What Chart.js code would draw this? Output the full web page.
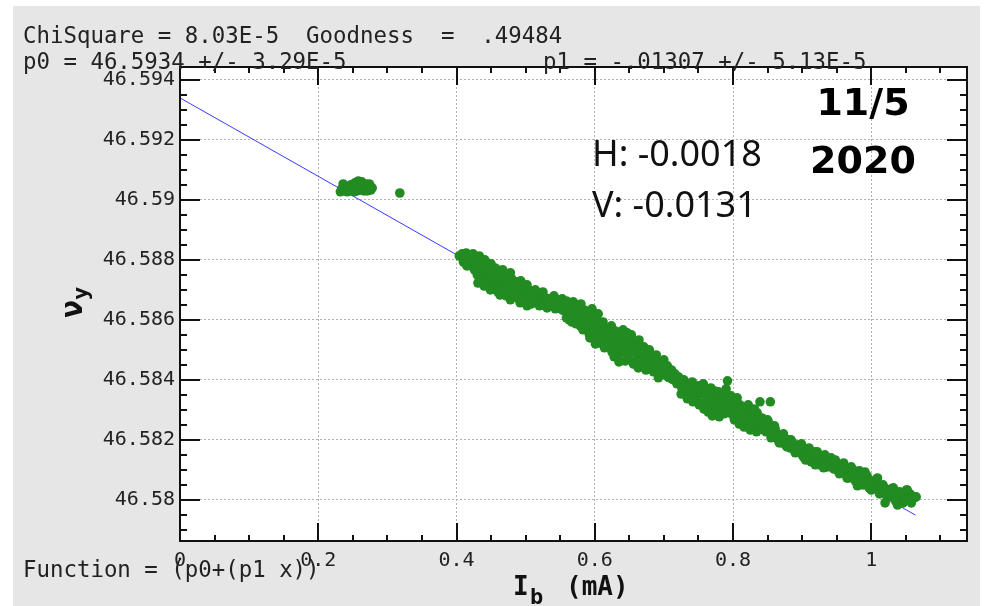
<!DOCTYPE html>
<html>
<head>
<meta charset="utf-8">
<script src="https://cdn.jsdelivr.net/npm/chart.js@4.4.0/dist/chart.umd.min.js"></script>
<style>
  html, body { margin: 0; padding: 0; background: #fff; }
  #wrap { width: 987px; height: 606px; }
</style>
</head>
<body>
<div id="wrap"><canvas id="tune-chart" width="987" height="606"></canvas></div>
<script>
// linear fit nu_y = p0 + p1 * Ib
const fitP0 = 46.5934;
const fitP1 = -0.01307;
const fitRange = [0, 1.064];

const xTickValues = [0, 0.2, 0.4, 0.6, 0.8, 1];
const yTickValues = [46.58, 46.582, 46.584, 46.586, 46.588, 46.59, 46.592, 46.594];

// [Ib (mA), nu_y]
const lowCurrentRun = [
  [0.234, 46.59037], [0.237, 46.59047], [0.240, 46.59033], [0.243, 46.59043],
  [0.245, 46.59030], [0.246, 46.59037], [0.247, 46.59050], [0.250, 46.59033],
  [0.253, 46.59057], [0.255, 46.59043], [0.256, 46.59030], [0.258, 46.59063],
  [0.259, 46.59050], [0.260, 46.59033], [0.262, 46.59057], [0.263, 46.59060],
  [0.265, 46.59047], [0.266, 46.59030], [0.268, 46.59040], [0.269, 46.59053],
  [0.272, 46.59037], [0.275, 46.59047], [0.276, 46.59033], [0.232, 46.59027],
  [0.236, 46.59053], [0.242, 46.59027], [0.249, 46.59040], [0.252, 46.59027],
  [0.259, 46.59040], [0.271, 46.59030], [0.274, 46.59053], [0.278, 46.59040],
  [0.256, 46.59053]
];

const strayPoint = [[0.318, 46.59023]];

const rampStart = [
  [0.404, 46.58813], [0.408, 46.58820], [0.412, 46.58807], [0.414, 46.58823],
  [0.417, 46.58793], [0.420, 46.58810], [0.421, 46.58780], [0.424, 46.58820],
  [0.426, 46.58767], [0.428, 46.58800], [0.430, 46.58750], [0.433, 46.58813],
  [0.434, 46.58780], [0.437, 46.58760], [0.439, 46.58737], [0.441, 46.58800],
  [0.443, 46.58773], [0.446, 46.58747], [0.447, 46.58723], [0.449, 46.58700],
  [0.450, 46.58787], [0.452, 46.58760], [0.454, 46.58733], [0.457, 46.58713],
  [0.459, 46.58767], [0.462, 46.58743], [0.463, 46.58683], [0.465, 46.58720],
  [0.466, 46.58700], [0.469, 46.58750], [0.470, 46.58727], [0.473, 46.58703],
  [0.476, 46.58737], [0.478, 46.58757], [0.478, 46.58667], [0.479, 46.58713],
  [0.482, 46.58693], [0.485, 46.58723], [0.486, 46.58703], [0.489, 46.58683],
  [0.492, 46.58713], [0.492, 46.58657], [0.495, 46.58693], [0.498, 46.58677],
  [0.501, 46.58707], [0.502, 46.58647], [0.504, 46.58687], [0.507, 46.58670],
  [0.509, 46.58697], [0.512, 46.58677], [0.515, 46.58660], [0.518, 46.58687],
  [0.521, 46.58667], [0.524, 46.58650], [0.527, 46.58677], [0.530, 46.58657],
  [0.533, 46.58670], [0.535, 46.58647], [0.538, 46.58663], [0.541, 46.58680],
  [0.544, 46.58653], [0.547, 46.58667], [0.550, 46.58643], [0.553, 46.58670],
  [0.556, 46.58653], [0.559, 46.58663], [0.559, 46.58607], [0.561, 46.58637],
  [0.564, 46.58650], [0.566, 46.58623], [0.567, 46.58593], [0.569, 46.58660],
  [0.572, 46.58633], [0.574, 46.58610], [0.576, 46.58647], [0.579, 46.58620],
  [0.579, 46.58580], [0.582, 46.58593], [0.583, 46.58567], [0.585, 46.58633],
  [0.588, 46.58607], [0.590, 46.58580], [0.592, 46.58553], [0.595, 46.58613],
  [0.598, 46.58593], [0.599, 46.58567], [0.602, 46.58540], [0.603, 46.58600],
  [0.606, 46.58573], [0.608, 46.58523], [0.609, 46.58553],
  [0.410, 46.58793], [0.415, 46.58780], [0.423, 46.58793], [0.427, 46.58773],
  [0.431, 46.58723], [0.436, 46.58800], [0.440, 46.58713], [0.444, 46.58790],
  [0.449, 46.58743], [0.453, 46.58703], [0.456, 46.58773], [0.460, 46.58693],
  [0.463, 46.58733], [0.467, 46.58767], [0.472, 46.58680], [0.475, 46.58720],
  [0.480, 46.58737], [0.483, 46.58677], [0.488, 46.58727], [0.491, 46.58667],
  [0.493, 46.58730], [0.496, 46.58660], [0.502, 46.58717], [0.508, 46.58653],
  [0.514, 46.58700], [0.520, 46.58647], [0.525, 46.58693], [0.531, 46.58640],
  [0.537, 46.58670], [0.543, 46.58637], [0.548, 46.58663], [0.554, 46.58633],
  [0.560, 46.58660], [0.563, 46.58600], [0.570, 46.58653], [0.573, 46.58587],
  [0.580, 46.58653], [0.586, 46.58577], [0.589, 46.58627], [0.593, 46.58540],
  [0.596, 46.58637], [0.601, 46.58520], [0.605, 46.58620]
];

const rampMiddle = [
  [0.612, 46.58593], [0.615, 46.58533], [0.617, 46.58570], [0.619, 46.58510],
  [0.621, 46.58550], [0.624, 46.58580], [0.625, 46.58493], [0.627, 46.58530],
  [0.630, 46.58563], [0.632, 46.58510], [0.634, 46.58483], [0.637, 46.58547],
  [0.638, 46.58520], [0.641, 46.58567], [0.643, 46.58493], [0.645, 46.58537],
  [0.648, 46.58477], [0.650, 46.58513], [0.653, 46.58550], [0.654, 46.58493],
  [0.657, 46.58523], [0.660, 46.58467], [0.661, 46.58503], [0.664, 46.58533],
  [0.666, 46.58480], [0.669, 46.58450], [0.671, 46.58510], [0.673, 46.58483],
  [0.676, 46.58460], [0.679, 46.58500], [0.680, 46.58440], [0.683, 46.58473],
  [0.686, 46.58450], [0.689, 46.58483], [0.690, 46.58427], [0.693, 46.58460],
  [0.696, 46.58440], [0.699, 46.58417], [0.700, 46.58467], [0.703, 46.58433],
  [0.706, 46.58410], [0.709, 46.58423], [0.712, 46.58403], [0.715, 46.58417],
  [0.718, 46.58397], [0.721, 46.58410], [0.724, 46.58390], [0.726, 46.58373],
  [0.729, 46.58400], [0.732, 46.58357], [0.735, 46.58383], [0.738, 46.58343],
  [0.741, 46.58393], [0.744, 46.58367], [0.747, 46.58333], [0.750, 46.58380],
  [0.753, 46.58353], [0.755, 46.58323], [0.757, 46.58387], [0.760, 46.58363],
  [0.763, 46.58340], [0.766, 46.58313], [0.768, 46.58373], [0.771, 46.58350],
  [0.773, 46.58327], [0.776, 46.58300], [0.779, 46.58360], [0.781, 46.58333],
  [0.783, 46.58310], [0.786, 46.58350], [0.787, 46.58287], [0.790, 46.58370],
  [0.792, 46.58397], [0.793, 46.58330], [0.796, 46.58307], [0.797, 46.58347],
  [0.800, 46.58283], [0.803, 46.58323], [0.805, 46.58300], [0.808, 46.58273],
  [0.810, 46.58317], [0.813, 46.58293], [0.815, 46.58267], [0.818, 46.58307],
  [0.821, 46.58283], [0.823, 46.58257], [0.826, 46.58297], [0.829, 46.58273],
  [0.832, 46.58247], [0.835, 46.58290], [0.839, 46.58327], [0.854, 46.58327],
  [0.611, 46.58563], [0.614, 46.58507], [0.618, 46.58540], [0.622, 46.58520],
  [0.628, 46.58477], [0.631, 46.58540], [0.635, 46.58460], [0.640, 46.58507],
  [0.644, 46.58463], [0.647, 46.58557], [0.651, 46.58520], [0.656, 46.58453],
  [0.659, 46.58493], [0.663, 46.58440], [0.667, 46.58513], [0.670, 46.58467],
  [0.674, 46.58433], [0.677, 46.58480], [0.682, 46.58460], [0.685, 46.58427],
  [0.687, 46.58467], [0.692, 46.58407], [0.695, 46.58447], [0.698, 46.58427],
  [0.702, 46.58427], [0.705, 46.58447], [0.708, 46.58407], [0.711, 46.58433],
  [0.714, 46.58400], [0.716, 46.58420], [0.719, 46.58387], [0.722, 46.58407],
  [0.725, 46.58353], [0.731, 46.58380], [0.734, 46.58337], [0.740, 46.58370],
  [0.742, 46.58327], [0.748, 46.58360], [0.751, 46.58317], [0.754, 46.58373],
  [0.758, 46.58303], [0.761, 46.58353], [0.764, 46.58293], [0.767, 46.58340],
  [0.770, 46.58280], [0.774, 46.58363], [0.777, 46.58320], [0.780, 46.58277],
  [0.784, 46.58330], [0.789, 46.58307], [0.795, 46.58290], [0.799, 46.58320],
  [0.802, 46.58267], [0.806, 46.58340], [0.809, 46.58253], [0.812, 46.58300],
  [0.816, 46.58243], [0.819, 46.58273], [0.822, 46.58317], [0.825, 46.58233],
  [0.828, 46.58267], [0.831, 46.58303], [0.834, 46.58227], [0.838, 46.58253]
];

const rampEnd = [
  [0.836, 46.58263], [0.839, 46.58240], [0.842, 46.58273], [0.845, 46.58250],
  [0.848, 46.58227], [0.851, 46.58260], [0.854, 46.58237], [0.857, 46.58217],
  [0.860, 46.58247], [0.863, 46.58223], [0.865, 46.58200], [0.868, 46.58213],
  [0.871, 46.58190], [0.874, 46.58207], [0.877, 46.58180], [0.880, 46.58200],
  [0.883, 46.58173], [0.886, 46.58190], [0.889, 46.58167], [0.891, 46.58183],
  [0.894, 46.58160], [0.897, 46.58177], [0.900, 46.58150], [0.903, 46.58167],
  [0.906, 46.58143], [0.909, 46.58160], [0.912, 46.58137], [0.915, 46.58153],
  [0.917, 46.58130], [0.920, 46.58147], [0.923, 46.58127], [0.926, 46.58140],
  [0.929, 46.58120], [0.932, 46.58133], [0.935, 46.58113], [0.938, 46.58130],
  [0.941, 46.58110], [0.944, 46.58123], [0.946, 46.58103], [0.949, 46.58117],
  [0.952, 46.58097], [0.955, 46.58113], [0.958, 46.58093], [0.961, 46.58107],
  [0.964, 46.58087], [0.967, 46.58100], [0.967, 46.58073], [0.970, 46.58080],
  [0.973, 46.58093], [0.975, 46.58073], [0.978, 46.58087], [0.981, 46.58067],
  [0.984, 46.58080], [0.987, 46.58060], [0.990, 46.58073], [0.993, 46.58053],
  [0.996, 46.58067], [0.999, 46.58047], [1.001, 46.58060], [1.004, 46.58040],
  [1.007, 46.58053], [1.010, 46.58033], [1.013, 46.58047], [1.016, 46.58027],
  [1.019, 46.58040], [1.022, 46.58020], [1.025, 46.58033], [1.028, 46.58013],
  [1.030, 46.58027], [1.033, 46.58007], [1.036, 46.58020], [1.039, 46.58000],
  [1.042, 46.58013], [1.045, 46.57997], [1.048, 46.58013], [1.051, 46.58033],
  [1.054, 46.58003], [1.056, 46.58020], [1.062, 46.58007],
  [0.844, 46.58233], [0.850, 46.58267], [0.855, 46.58207], [0.861, 46.58237],
  [0.867, 46.58190], [0.873, 46.58220], [0.878, 46.58177], [0.884, 46.58200],
  [0.890, 46.58157], [0.896, 46.58183], [0.902, 46.58143], [0.907, 46.58170],
  [0.913, 46.58127], [0.919, 46.58160], [0.925, 46.58117], [0.931, 46.58147],
  [0.936, 46.58110], [0.942, 46.58140], [0.948, 46.58133], [0.954, 46.58087],
  [0.960, 46.58123], [0.965, 46.58073], [0.971, 46.58110], [0.977, 46.58063],
  [0.983, 46.58097], [0.988, 46.58050], [0.994, 46.58080], [1.000, 46.58033],
  [1.006, 46.58067], [1.012, 46.58020], [1.017, 46.58050], [1.023, 46.58007],
  [1.029, 46.58037], [1.035, 46.57997], [1.041, 46.58027], [1.046, 46.57990],
  [1.052, 46.58033], [1.059, 46.58013], [1.065, 46.58010],
  [0.899, 46.58187], [0.910, 46.58173], [0.922, 46.58160], [0.933, 46.58150],
  [0.905, 46.58133], [0.919, 46.58117], [0.931, 46.58107], [0.974, 46.58100],
  [0.980, 46.58047], [0.991, 46.58093], [0.997, 46.58040], [1.009, 46.58073],
  [1.020, 46.57990], [1.032, 46.58040], [1.038, 46.57983], [1.049, 46.58000],
  [1.058, 46.57990]
];

const MONO = '"DejaVu Sans Mono", monospace';

const samples = [...lowCurrentRun, ...strayPoint, ...rampStart, ...rampMiddle, ...rampEnd]
  .map(([x, y]) => ({ x, y }));
const fitLine = fitRange.map(x => ({ x, y: fitP0 + fitP1 * x }));

// draws tick marks inward on all four sides of the plot box
function drawTicks(ctx, scale, values, len, area, horizontal) {
  values.forEach(v => {
    const p = Math.round(scale.getPixelForValue(v));
    ctx.beginPath();
    if (horizontal) {
      ctx.moveTo(p, area.bottom); ctx.lineTo(p, area.bottom - len);
      ctx.moveTo(p, area.top); ctx.lineTo(p, area.top + len);
    } else {
      ctx.moveTo(area.left, p); ctx.lineTo(area.left + len, p);
      ctx.moveTo(area.right, p); ctx.lineTo(area.right - len, p);
    }
    ctx.stroke();
  });
}

function minorValues(scale, step, majors) {
  const out = [];
  const start = Math.ceil(scale.min / step);
  const end = Math.floor(scale.max / step);
  for (let i = start; i <= end; i++) {
    const v = i * step;
    if (!majors.some(m => Math.abs(m - v) < step / 10)) out.push(v);
  }
  return out;
}

const plotFrame = {
  id: 'plotFrame',
  beforeDraw(chart) {
    const { ctx, chartArea: a } = chart;
    ctx.save();
    ctx.fillStyle = '#ffffff';
    ctx.fillRect(0, 0, chart.width, chart.height);
    ctx.fillStyle = '#e6e6e6';
    ctx.fillRect(13, 6, 967, 600);
    ctx.fillStyle = '#ffffff';
    ctx.fillRect(a.left, a.top, a.right - a.left, a.bottom - a.top);
    ctx.restore();
  },
  afterDatasetsDraw(chart) {
    const { ctx, chartArea: a, scales } = chart;
    ctx.save();
    ctx.strokeStyle = '#111';
    ctx.lineWidth = 2;
    drawTicks(ctx, scales.x, xTickValues, 18, a, true);
    drawTicks(ctx, scales.x, minorValues(scales.x, 0.05, xTickValues), 6, a, true);
    drawTicks(ctx, scales.y, yTickValues, 20, a, false);
    drawTicks(ctx, scales.y, minorValues(scales.y, 0.0005, yTickValues), 7, a, false);
    ctx.strokeRect(a.left, a.top, a.right - a.left, a.bottom - a.top);
    ctx.restore();
  },
  afterDraw(chart) {
    const ctx = chart.ctx;
    ctx.save();
    ctx.fillStyle = '#222';
    ctx.textBaseline = 'alphabetic';
    ctx.textAlign = 'left';
    ctx.font = '22.4px ' + MONO;
    ctx.fillText('ChiSquare = 8.03E-5  Goodness  =  .49484', 23, 43);
    ctx.fillText('p0 = ' + fitP0 + ' +/- 3.29E-5', 23, 69);
    ctx.fillText('p1 = -.01307 +/- 5.13E-5', 543, 69);
    ctx.fillText('Function = (p0+(p1 x))', 23, 577);

    // x axis title with subscript
    ctx.fillStyle = '#111';
    ctx.font = 'bold 26px ' + MONO;
    ctx.fillText('I', 513, 595);
    ctx.fillText('(mA)', 566, 595);
    ctx.font = 'bold 22px ' + MONO;
    ctx.fillText('b', 530, 604);

    // y axis title, rotated
    ctx.save();
    ctx.translate(82, 318);
    ctx.rotate(-Math.PI / 2);
    ctx.font = 'bold 30px ' + MONO;
    ctx.fillText('\u03BD', 0, 0);
    const w = ctx.measureText('\u03BD').width;
    ctx.font = 'bold 22px ' + MONO;
    ctx.fillText('y', w, 6);
    ctx.restore();

    // date stamp
    ctx.fillStyle = '#000';
    ctx.textAlign = 'center';
    ctx.font = 'bold 38px "DejaVu Sans", sans-serif';
    ctx.fillText('11/5', 863, 115);
    ctx.fillText('2020', 863, 173);

    // slopes
    ctx.textAlign = 'left';
    ctx.fillStyle = '#111';
    ctx.font = '36px "Noto Sans", sans-serif';
    ctx.fillText('H: -0.0018', 592, 166);
    ctx.fillText('V: -0.0131', 592, 217);
    ctx.restore();
  }
};

const tickFmt = v => String(+Number(v).toFixed(3));

new Chart(document.getElementById('tune-chart'), {
  type: 'scatter',
  data: {
    datasets: [
      {
        label: 'nu_y',
        data: samples,
        backgroundColor: '#228b22',
        borderWidth: 0,
        pointRadius: 4.8,
        pointHoverRadius: 4.8,
        order: 0
      },
      {
        label: 'fit',
        data: fitLine,
        showLine: true,
        borderColor: '#3a3aff',
        borderWidth: 1,
        pointRadius: 0,
        order: 1
      }
    ]
  },
  options: {
    responsive: false,
    animation: false,
    events: [],
    layout: { padding: { top: 67, right: 20, left: 0, bottom: 0 } },
    plugins: {
      legend: { display: false },
      tooltip: { enabled: false }
    },
    scales: {
      x: {
        type: 'linear',
        min: 0,
        max: 1.1385,
        afterFit(s) { s.height = 65; },
        afterBuildTicks(s) { s.ticks = xTickValues.map(v => ({ value: v })); },
        ticks: {
          font: { family: 'DejaVu Sans Mono', size: 20 },
          color: '#222',
          padding: 8,
          maxRotation: 0,
          autoSkip: false,
          callback: tickFmt
        },
        grid: { color: '#b0b0b0', lineWidth: 1, drawTicks: false },
        border: { display: false, dash: [2, 2] }
      },
      y: {
        type: 'linear',
        min: 46.57863,
        max: 46.59443,
        afterFit(s) { s.width = 180; },
        afterBuildTicks(s) { s.ticks = yTickValues.map(v => ({ value: v })); },
        ticks: {
          font: { family: 'DejaVu Sans Mono', size: 20 },
          color: '#222',
          padding: 5,
          autoSkip: false,
          callback: tickFmt
        },
        grid: { color: '#b0b0b0', lineWidth: 1, drawTicks: false },
        border: { display: false, dash: [2, 2] }
      }
    }
  },
  plugins: [plotFrame]
});
</script>
</body>
</html>
